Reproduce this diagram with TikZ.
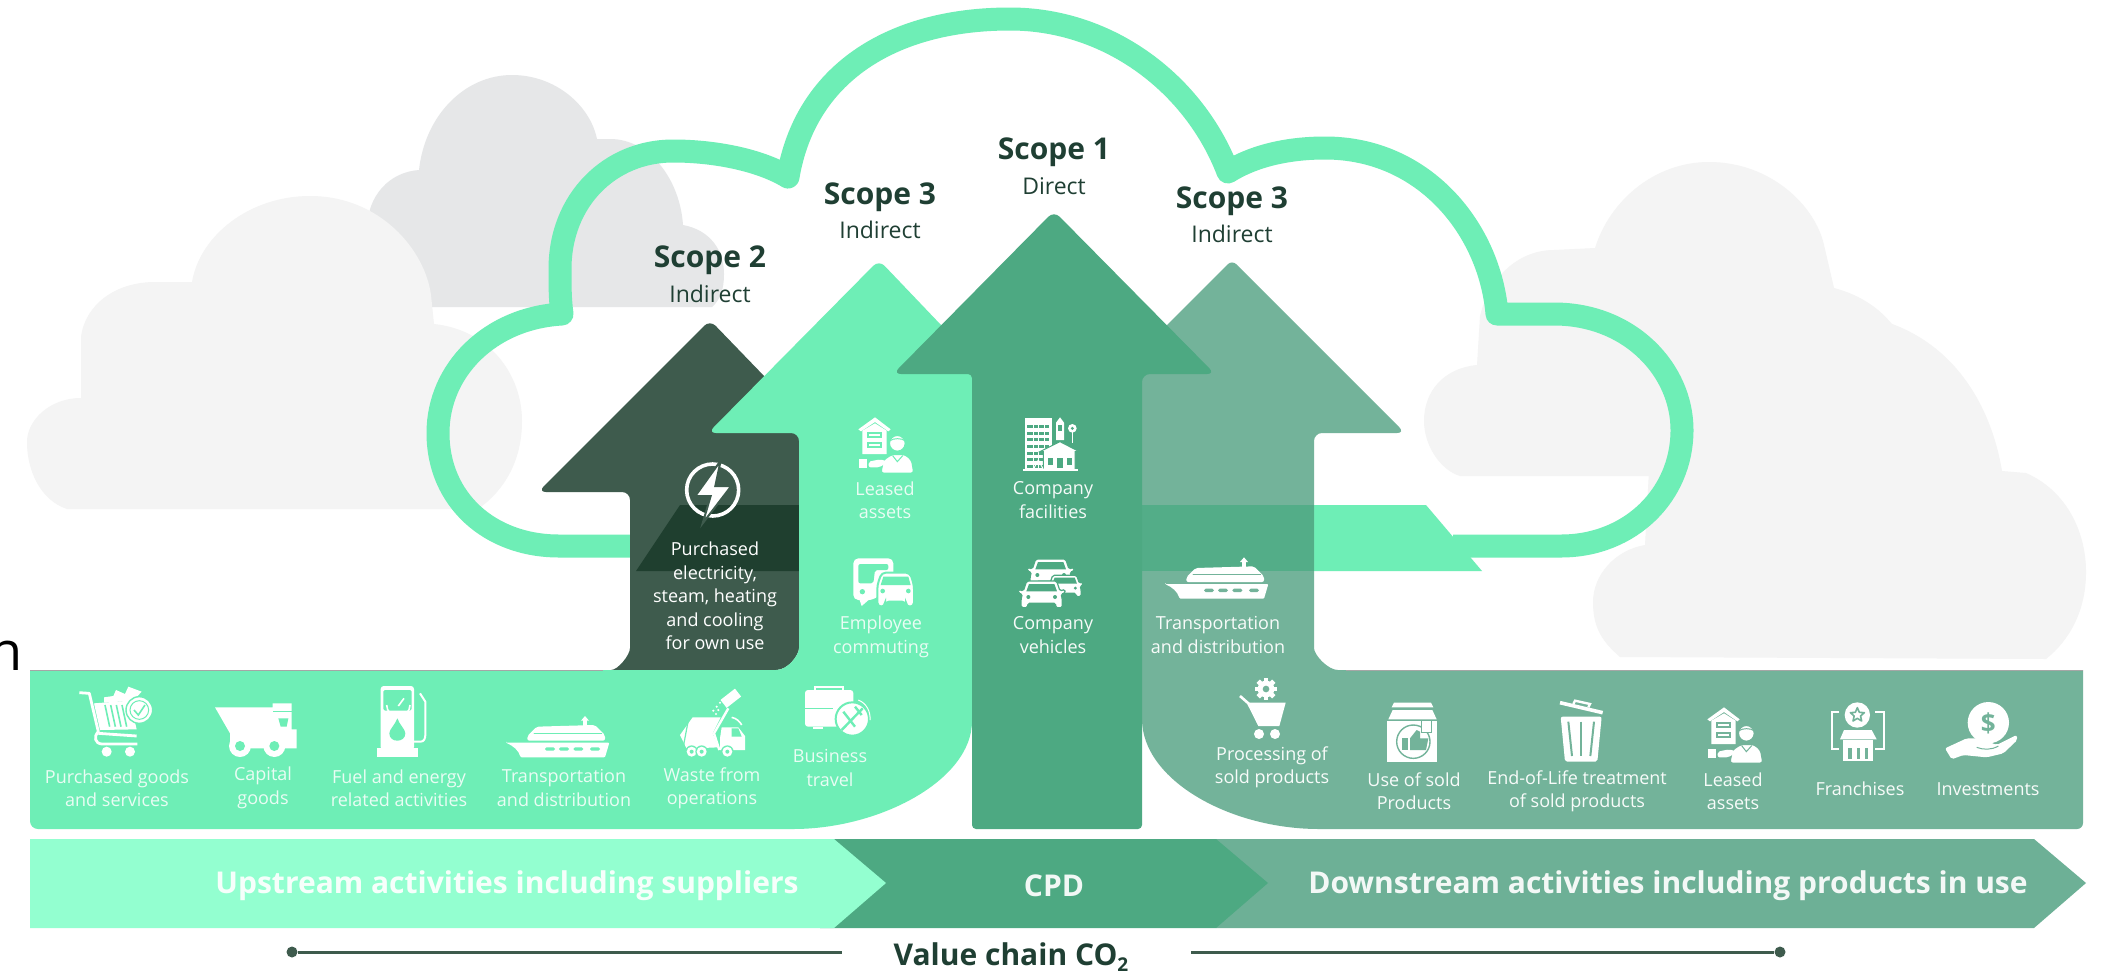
\documentclass[tikz,border=0pt]{standalone}
\usepackage{fontspec}
\setmainfont{Open Sans}
\definecolor{mintA}{HTML}{6EEEB6}
\definecolor{mintB}{HTML}{93FFD0}
\definecolor{greenA}{HTML}{4DA982}
\definecolor{greenB}{HTML}{73B39A}
\definecolor{greenC}{HTML}{6DB096}
\definecolor{greenD}{HTML}{53AD88}
\definecolor{darkA}{HTML}{3E5B4D}
\definecolor{darkB}{HTML}{1F3F2F}
\definecolor{inkA}{HTML}{1F3F33}
\definecolor{grayA}{HTML}{E6E7E8}
\definecolor{grayB}{HTML}{F4F4F4}
\tikzset{
  scopehd/.style={font=\fontsize{15}{18}\selectfont\bfseries,text=inkA,inner sep=0pt},
  subhd/.style={font=\fontsize{11.5}{14}\selectfont,text=inkA,inner sep=0pt},
  lbl/.style={font=\fontsize{9}{11.7}\selectfont,text=white,text opacity=0.85,align=center,inner sep=0pt},
  barlbl/.style={font=\fontsize{15}{18}\selectfont\bfseries,text=white,text opacity=0.92,inner sep=0pt},
  enddot/.style={circle,fill=darkA,inner sep=0pt,minimum size=5.5pt},
  holeline/.style={draw=\hc,line cap=round},
  arrowshape/.style={rounded corners=4pt},
}
% icons: coordinates are those of 3x crops, hence scale=1/3
\newcommand{\shipicon}[3]{\def\hc{#3}\begin{scope}[shift={(#1,#2)},scale=1/3]
  \fill[white,rounded corners=0.5pt] (48,218) -- (358,218) -- (345,262) -- (92,262) .. controls (85,240) and (70,228) .. (48,218) -- cycle;
  \fill[white,rounded corners=1pt] (112,212) -- (112,198) -- (140,170) -- (315,165) -- (345,195) -- (345,212) -- cycle;
  \fill[white] (278,150) rectangle (292,168);
  \fill[white] (285,138) -- (297,152) -- (273,152) -- cycle;
  \draw[holeline,line width=0.5pt] (132,190) -- (335,190);
  \foreach \a in {180,222,265,315}{\fill[\hc,rounded corners=0.8pt] (\a-15,232) rectangle (\a+15,242);}
\end{scope}}
\newcommand{\leasedicon}[3]{\def\hc{#3}\begin{scope}[shift={(#1,#2)},scale=1/3]
  \fill[white] (565,58) -- (615,22) -- (662,58) -- (655,64) -- (615,36) -- (573,64) -- cycle;
  \fill[white] (577,62) -- (615,40) -- (650,62) -- (650,132) -- (577,132) -- cycle;
  \fill[\hc] (590,66) rectangle (635,85);
  \fill[\hc] (590,95) rectangle (635,115);
  \fill[white] (596,72) rectangle (629,79);
  \fill[white] (596,101) rectangle (629,109);
  \fill[white,draw=\hc,line width=0.7pt] (682,100) circle (24);
  \draw[holeline,line width=0.5pt] (660,92) .. controls (670,84) and (695,84) .. (705,92);
  \fill[white,draw=\hc,line width=0.7pt,rounded corners=1.5pt] (632,190) -- (640,150) -- (665,133) -- (705,133) -- (725,150) -- (732,190) -- cycle;
  \draw[holeline,line width=0.5pt] (668,137) -- (682,155) -- (698,137);
  \fill[white] (567,148) rectangle (592,175);
  \fill[white,rounded corners=1pt] (596,155) -- (630,148) -- (655,155) -- (628,172) -- (596,172) -- cycle;
\end{scope}}
\newcommand{\carshape}[4]{\begin{scope}[shift={(#1,#2)},scale=#3]
  \fill[white,draw=#4,line width=0.6pt,rounded corners=0.8pt] (25,5) -- (115,5) -- (125,35) -- (140,30) -- (140,42) -- (128,44) -- (132,60) -- (132,85) -- (112,85) -- (112,72) -- (28,72) -- (28,85) -- (8,85) -- (8,60) -- (12,44) -- (0,42) -- (0,30) -- (15,35) -- cycle;
  \fill[#4] (32,14) -- (108,14) -- (116,36) -- (24,36) -- cycle;
  \fill[#4] (30,53) circle (6);
  \fill[#4] (110,53) circle (6);
\end{scope}}
\begin{document}
\begin{tikzpicture}[x=0.5pt,y=-0.5pt]
\useasboundingbox (0,0) rectangle (2113,975);
\fill[white] (0,0) rectangle (2113,975);

% background clouds
\fill[grayA] (400,307) -- (367,230) .. controls (367,195) and (390,172) .. (419,170) .. controls (425,115) and (465,75) .. (512,75) .. controls (555,75) and (590,105) .. (597,139) -- (610,139) .. controls (650,139) and (680,180) .. (683,225) .. controls (710,230) and (724,250) .. (724,274) .. controls (724,290) and (720,300) .. (712,307) -- cycle;
\fill[grayB] (67,509) .. controls (40,500) and (27,470) .. (27,442) .. controls (27,420) and (50,398) .. (81,398) -- (81,337) .. controls (85,305) and (115,282) .. (155,282) -- (192,282) .. controls (200,235) and (250,196) .. (310,196) .. controls (380,196) and (425,250) .. (431,295) -- (434,324) .. controls (490,330) and (522,375) .. (522,421) .. controls (522,460) and (505,490) .. (478,509) -- cycle;
\fill[grayB] (1620,657) .. controls (1600,640) and (1593,625) .. (1593,602) .. controls (1593,575) and (1615,550) .. (1645,545) -- (1649,470) -- (1800,440) -- (1880,320) .. controls (1950,340) and (1990,400) .. (2002,471) -- (2026,473) .. controls (2065,490) and (2086,530) .. (2086,572) .. controls (2086,610) and (2070,640) .. (2046,659) -- cycle;
\fill[grayB] (1460,476) .. controls (1440,470) and (1424,445) .. (1424,421) .. controls (1424,390) and (1445,368) .. (1477,365) -- (1480,316) .. controls (1490,275) and (1520,250) .. (1554,250) -- (1595,248) .. controls (1610,200) and (1655,162) .. (1709,162) .. controls (1770,162) and (1815,205) .. (1824,245) -- (1834,288) .. controls (1880,300) and (1911,335) .. (1911,379) .. controls (1911,425) and (1895,455) .. (1864,476) -- cycle;

% main cloud outline
\draw[mintA,line width=11.5pt,line join=round] (640,546) -- (559,546) .. controls (490,546) and (438,500) .. (438,433) .. controls (438,370) and (490,318) .. (562,314) .. controls (560,300) and (560,285) .. (560,269) .. controls (560,200) and (610,151) .. (673,151) .. controls (715,151) and (760,160) .. (788,177) .. controls (805,75) and (890,19) .. (1010,19) .. controls (1110,19) and (1195,85) .. (1228,172) .. controls (1255,155) and (1290,148) .. (1325,148) .. controls (1425,148) and (1490,230) .. (1497,314) -- (1554,314) .. controls (1630,314) and (1682,370) .. (1682,430) .. controls (1682,495) and (1630,546) .. (1561,546) -- (1453,546);
\fill[mintA] (680,505) -- (1426,505) -- (1482,571) -- (636,571) -- cycle;

% scope 2 arrow
\fill[darkA,arrowshape] (710,320) -- (876,492) -- (799,492) -- (799,640) .. controls (799,655) and (788,670) .. (768,670) -- (603,670) .. controls (618,670) and (630,655) .. (630,640) -- (630,492) -- (538,492) -- cycle;
\fill[darkB] (680,505) -- (799,505) -- (799,571) -- (636,571) -- cycle;

% scope 3 (upstream) arrow and block
\fill[mintA,arrowshape] (879,260) -- (1044,433) -- (972,433) -- (972,713) .. controls (972,780) and (880,829) .. (785,829) -- (30,829) [sharp corners] -- (30,670) [rounded corners=4pt] -- (768,670) .. controls (788,670) and (799,655) .. (799,640) -- (799,433) -- (708,433) -- cycle;

% scope 3 (downstream) arrow and block
\fill[greenB,arrowshape] (1232,260) -- (1405,433) -- (1314,433) -- (1314,640) .. controls (1314,655) and (1328,670) .. (1346,670) [sharp corners] -- (2083,670) [rounded corners=3pt] -- (2083,829) -- (1325,829) .. controls (1230,829) and (1142,780) .. (1142,713) -- (1142,433) -- (1059,433) -- cycle;
\fill[greenD] (1142,505) rectangle (1314,571);

% scope 1 arrow
\fill[greenA,arrowshape] (1054,211) -- (1215,374) -- (1142,374) [rounded corners=2pt] -- (1142,829) -- (972,829) -- (972,374) [rounded corners=4pt] -- (893,374) -- cycle;

% thin edges along the tops of the blocks and bars
\draw[black!35,line width=0.5pt] (30,670) -- (603,670);
\draw[black!35,line width=0.5pt] (1346,670) -- (2083,670);

% bars
\fill[greenC] (1216,839) -- (2034,839) -- (2086,883) -- (2034,928) -- (1216,928) -- cycle;
\fill[greenA] (820,839) -- (1216,839) -- (1268,883) -- (1216,928) -- (820,928) -- cycle;
\fill[mintB] (30,839) -- (834,839) -- (886,883) -- (834,928) -- (30,928) -- cycle;

% value chain line
\node[enddot] (vl) at (292,952) {};
\coordinate (vlend) at (842,952);
\node[enddot] (vr) at (1780,952) {};
\coordinate (vrend) at (1191,952);
\draw[darkA,line width=1.5pt] (vl) -- (vlend);
\draw[darkA,line width=1.5pt] (vr) -- (vrend);
\node[font=\fontsize{15}{18}\selectfont\bfseries,text=inkA,inner sep=0pt] (vc) at (1011,957) {Value chain CO\raisebox{-0.35ex}{\fontsize{9.5}{10}\selectfont 2}};

% stray glyph at left edge
\node[font=\fontsize{27}{30}\selectfont,text=black,anchor=base east,inner sep=0pt] (stray) at (23,670) {n};

% headings
\node[scopehd] (h2) at (710,260) {Scope 2};
\node[subhd] (i2) at (710,294) {Indirect};
\node[scopehd] (h3a) at (880,197) {Scope 3};
\node[subhd] (i3a) at (880,230) {Indirect};
\node[scopehd] (h1) at (1054,152) {Scope 1};
\node[subhd] (i1) at (1054,186) {Direct};
\node[scopehd] (h3b) at (1232,201) {Scope 3};
\node[subhd] (i3b) at (1232,234) {Indirect};

% labels
\node[lbl,text opacity=1] (t1) at (715,596) {Purchased\\electricity,\\steam, heating\\and cooling\\for own use};
\node[lbl] (t2) at (885,500) {Leased\\assets};
\node[lbl] (t3) at (881,637) {Employee\\commuting};
\node[lbl,text opacity=0.95] (t4) at (1053,500) {Company\\facilities};
\node[lbl,text opacity=0.95] (t5) at (1053,635) {Company\\vehicles};
\node[lbl,text opacity=0.95] (t6) at (1218,635) {Transportation\\and distribution};
\node[lbl] (b1) at (117,788) {Purchased goods\\and services};
\node[lbl] (b2) at (263,788) {Capital\\goods};
\node[lbl] (b3) at (399,788) {Fuel and energy\\related activities};
\node[lbl] (b4) at (564,788) {Transportation\\and distribution};
\node[lbl] (b5) at (712,788) {Waste from\\operations};
\node[lbl] (b6) at (830,768) {Business\\travel};
\node[lbl,text opacity=0.95] (c1) at (1272,767) {Processing of\\sold products};
\node[lbl,text opacity=0.95] (c2) at (1414,791) {Use of sold\\Products};
\node[lbl,text opacity=0.95] (c3) at (1577,791) {End-of-Life treatment\\of sold products};
\node[lbl,text opacity=0.95] (c4) at (1733,791) {Leased\\assets};
\node[lbl,text opacity=0.95] (c5) at (1860,789) {Franchises};
\node[lbl,text opacity=0.95] (c6) at (1988,789) {Investments};

\node[barlbl] (u) at (507,886) {Upstream activities including suppliers};
\node[barlbl] (p) at (1054,886) {CPD};
\node[barlbl] (d) at (1668,886) {Downstream activities including products in use};

% ---- icons ----
% lightning
\begin{scope}[shift={(670,410)},scale=1/3]
  \draw[white,line width=1.8pt] (128,240) circle (78);
  \fill[white,draw=darkA,line width=1pt] (152,152) -- (76,258) -- (122,258) -- (98,340) -- (184,228) -- (136,228) -- cycle;
\end{scope}

\leasedicon{670}{410}{mintA}
\leasedicon{1519}{700}{greenB}

% company facilities
\begin{scope}[shift={(670,410)},scale=1/3]
  \fill[white] (1065,25) rectangle (1145,180);
  \foreach \y in {45,65,85,105,125,145,165}{\fill[greenA] (1072,\y) rectangle (1138,\y+9);}
  \foreach \x in {1088,1105,1122}{\fill[white] (\x,40) rectangle (\x+3,175);}
  \fill[white] (1158,38) -- (1170,22) -- (1182,38) -- (1182,90) -- (1158,90) -- cycle;
  \fill[greenA] (1165,45) rectangle (1175,62);
  \fill[white] (1207,55) circle (13);
  \fill[greenA] (1207,55) circle (5);
  \fill[white] (1205,65) rectangle (1209,100);
  \fill[white,draw=greenA,line width=0.5pt] (1110,125) -- (1170,95) -- (1228,125) -- (1215,125) -- (1215,180) -- (1120,180) -- (1120,125) -- cycle;
  \fill[greenA] (1135,145) rectangle (1150,165);
  \fill[greenA] (1160,145) rectangle (1180,175);
  \fill[greenA] (1190,145) rectangle (1205,165);
  \fill[white] (1060,178) rectangle (1225,184);
  \draw[white,line width=0.5pt] (1090,178) -- (1105,150) -- (1120,178);
\end{scope}

% employee commuting
\begin{scope}[shift={(830,550)},scale=1/3]
  \fill[white,rounded corners=2.5pt] (70,25) -- (190,25) -- (190,100) -- (130,150) -- (70,150) -- cycle;
  \fill[white] (88,148) -- (118,148) -- (95,168) -- cycle;
  \fill[mintA,rounded corners=1pt] (85,42) -- (175,42) -- (175,60) -- (135,60) -- (130,100) -- (85,100) -- cycle;
  \fill[mintA] (97,125) circle (8);
  \fill[white,draw=mintA,line width=1pt,rounded corners=2pt] (155,68) -- (240,68) -- (252,105) -- (252,170) -- (228,170) -- (228,155) -- (165,155) -- (165,170) -- (142,170) -- (142,105) -- cycle;
  \fill[mintA] (160,80) -- (235,80) -- (242,105) -- (152,105) -- cycle;
  \fill[mintA] (158,123) circle (7);
  \fill[mintA] (235,123) circle (7);
\end{scope}

% company vehicles
\begin{scope}[shift={(830,550)},scale=1/3]
  \carshape{592}{22}{1}{greenA}
  \carshape{648}{72}{0.8}{greenA}
  \carshape{565}{88}{1}{greenA}
\end{scope}

\shipicon{1149}{511.33}{greenB}
\shipicon{490}{670}{mintA}

% cart with check
\begin{scope}[shift={(30,670)},scale=1/3]
  \fill[white] (230,245) circle (15);
  \fill[white] (300,245) circle (15);
  \draw[white,line width=1.4pt,line join=round] (148,68) -- (178,70) -- (205,185) .. controls (190,200) and (195,220) .. (215,222) -- (322,222);
  \draw[white,line width=1.4pt] (205,190) -- (320,198);
  \fill[white] (222,82) -- (250,78) -- (258,60) -- (285,72) -- (295,50) -- (335,65) -- (310,92) -- (222,98) -- cycle;
  \fill[white] (192,100) -- (300,92) -- (320,178) -- (210,180) -- cycle;
  \foreach \a in {225,242,259,276}{\draw[mintA,line width=0.8pt] (\a,105) -- (\a+14,170);}
  \fill[white,draw=mintA,line width=0.7pt] (328,120) circle (40);
  \draw[mintA,line width=0.5pt] (328,120) circle (28);
  \draw[mintA,line width=0.8pt] (312,120) -- (325,135) -- (345,105);
\end{scope}

% dump truck
\begin{scope}[shift={(30,670)},scale=1/3]
  \fill[white] (555,112) -- (728,112) -- (728,100) -- (785,100) -- (785,178) -- (800,178) -- (800,235) -- (600,235) -- (600,190) -- cycle;
  \fill[mintA] (730,123) rectangle (785,127);
  \fill[mintA] (745,145) -- (775,145) -- (770,170) -- (752,170) -- cycle;
  \fill[white] (630,228) circle (33);
  \fill[white] (733,228) circle (33);
  \fill[mintA] (630,228) circle (15);
  \fill[mintA] (733,228) circle (15);
  \fill[mintA] (663,240) rectangle (700,262);
\end{scope}

% fuel pump
\begin{scope}[shift={(30,670)},scale=1/3]
  \fill[white,rounded corners=1.5pt] (1052,48) rectangle (1152,240);
  \fill[white] (1042,235) rectangle (1165,262);
  \fill[mintA,rounded corners=0.8pt] (1060,60) rectangle (1145,122);
  \draw[white,line width=0.8pt] (1070,105) arc[start angle=180,end angle=0,radius=35];
  \draw[white,line width=0.8pt] (1105,108) -- (1122,85);
  \fill[mintA] (1102,145) .. controls (1095,165) and (1078,178) .. (1078,190) .. controls (1078,205) and (1090,212) .. (1102,212) .. controls (1114,212) and (1126,205) .. (1126,190) .. controls (1126,178) and (1109,165) .. (1102,145) -- cycle;
  \draw[white,line width=1pt,line join=round] (1152,215) -- (1172,215) .. controls (1182,215) and (1186,205) .. (1186,195) -- (1186,95) -- (1170,70);
\end{scope}

% garbage truck
\begin{scope}[shift={(490,670)},scale=1/3]
  \fill[white] (570,195) -- (608,142) -- (692,142) -- (668,190) -- (684,232) -- (590,236) -- cycle;
  \draw[mintA,line width=0.6pt] (595,150) -- (580,230);
  \fill[white] (695,172) -- (745,172) -- (765,198) -- (765,240) -- (690,240) -- (690,205) -- cycle;
  \fill[mintA] (725,175) -- (745,175) -- (755,200) -- (725,200) -- cycle;
  \draw[white,line width=0.8pt] (725,142) .. controls (740,145) and (750,155) .. (755,165);
  \draw[white,line width=1.2pt] (715,115) -- (672,190) -- (688,240);
  \foreach \c in {605,635,712}{\fill[mintA] (\c,245) circle (19); \fill[white] (\c,245) circle (15); \fill[mintA] (\c,245) circle (6);}
  \fill[white,rotate around={38:(722,85)}] (695,70) rectangle (750,100);
  \foreach \a/\b in {690/98,680/110,670/122,685/120,678/132}{\fill[white] (\a,\b) circle (3.5);}
\end{scope}

% luggage and no-fly
\begin{scope}[shift={(490,670)},scale=1/3]
  \draw[white,line width=1pt] (975,60) -- (975,50) -- (1060,50) -- (1060,60);
  \fill[white,rounded corners=1.5pt] (945,60) rectangle (1090,170);
  \fill[white] (970,172) rectangle (1000,178);
  \fill[mintA] (945,114) rectangle (1030,118);
  \fill[white,draw=mintA,line width=1pt] (1087,147) circle (50);
  \draw[mintA,line width=1.2pt] (1055,180) -- (1118,115);
  \draw[mintA,line width=1.2pt] (1060,125) -- (1095,170);
  \draw[mintA,line width=1.2pt] (1115,135) -- (1095,110);
  \draw[white,line width=0.5pt] (1105,90) .. controls (1130,100) and (1142,125) .. (1140,150);
\end{scope}

% processing of sold products
\begin{scope}[shift={(1220,670)},scale=1/3]
  \foreach \a in {0,45,...,315}{\fill[white,rotate around={\a:(138,57)}] (131,24) rectangle (145,40);}
  \fill[white] (138,57) circle (25);
  \fill[greenB] (138,57) circle (10);
  \draw[white,line width=1.3pt] (60,78) -- (85,100) -- (118,165);
  \fill[white] (85,98) -- (197,98) -- (178,168) -- (115,168) -- cycle;
  \fill[white] (117,192) circle (15);
  \fill[white] (165,192) circle (15);
\end{scope}

% use of sold products
\begin{scope}[shift={(1220,670)},scale=1/3]
  \fill[white] (522,98) -- (633,98) -- (640,112) -- (515,112) -- cycle;
  \fill[white] (505,148) -- (518,120) -- (637,120) -- (650,148) -- cycle;
  \fill[white] (502,152) rectangle (650,275);
  \draw[greenB,line width=0.7pt] (580,215) circle (50);
  \fill[greenB] (545,205) rectangle (565,240);
  \fill[greenB] (570,240) -- (570,205) -- (590,180) -- (600,185) -- (600,205) -- (625,205) -- (618,240) -- cycle;
  \fill[white,draw=greenB,line width=0.5pt] (605,150) rectangle (633,186);
\end{scope}

% bin
\begin{scope}[shift={(1220,670)},scale=1/3]
  \draw[white,line width=1.8pt] (1020,98) -- (1148,128);
  \draw[white,line width=1.2pt] (1060,102) -- (1065,92) -- (1110,102) -- (1105,112);
  \fill[white,rounded corners=1pt] (1022,140) -- (1145,140) -- (1132,275) -- (1035,275) -- cycle;
  \draw[greenB,line width=1pt] (1045,155) -- (1056,258);
  \draw[greenB,line width=1pt] (1083,155) -- (1083,258);
  \draw[greenB,line width=1pt] (1122,155) -- (1111,258);
\end{scope}

% franchise
\begin{scope}[shift={(1680,670)},scale=1/3]
  \draw[white,line width=1pt] (478,125) -- (455,125) -- (455,238) -- (478,238);
  \draw[white,line width=1pt] (585,125) -- (612,125) -- (612,238) -- (585,238);
  \fill[white] (532,135) circle (38);
  \draw[greenB,line width=0.8pt,line join=round] (532,113) -- (526,127) -- (511,128) -- (522.5,138) -- (519,153) -- (532,145) -- (545,153) -- (541.5,138) -- (553,128) -- (538,127) -- cycle;
  \fill[white] (492,180) -- (575,180) -- (590,208) -- (480,208) -- cycle;
  \fill[white] (490,210) rectangle (580,272);
  \foreach \a in {505,530,555}{\fill[greenB] (\a,235) rectangle (\a+10,268);}
\end{scope}

% hand and coin
\begin{scope}[shift={(1680,670)},scale=1/3]
  \fill[white] (925,158) circle (62);
  \node[font=\fontsize{13}{15}\selectfont\bfseries,text=greenB,inner sep=0pt] (dollar) at (925,160) {\$};
  \fill[white,rounded corners=1pt] (795,235) -- (860,205) -- (900,205) -- (950,225) -- (1010,195) -- (1012,210) -- (970,250) -- (920,262) -- (850,255) -- (815,268) -- cycle;
  \draw[greenB,line width=0.5pt] (890,232) .. controls (910,240) and (935,240) .. (955,228);
\end{scope}
\end{tikzpicture}
\end{document}
